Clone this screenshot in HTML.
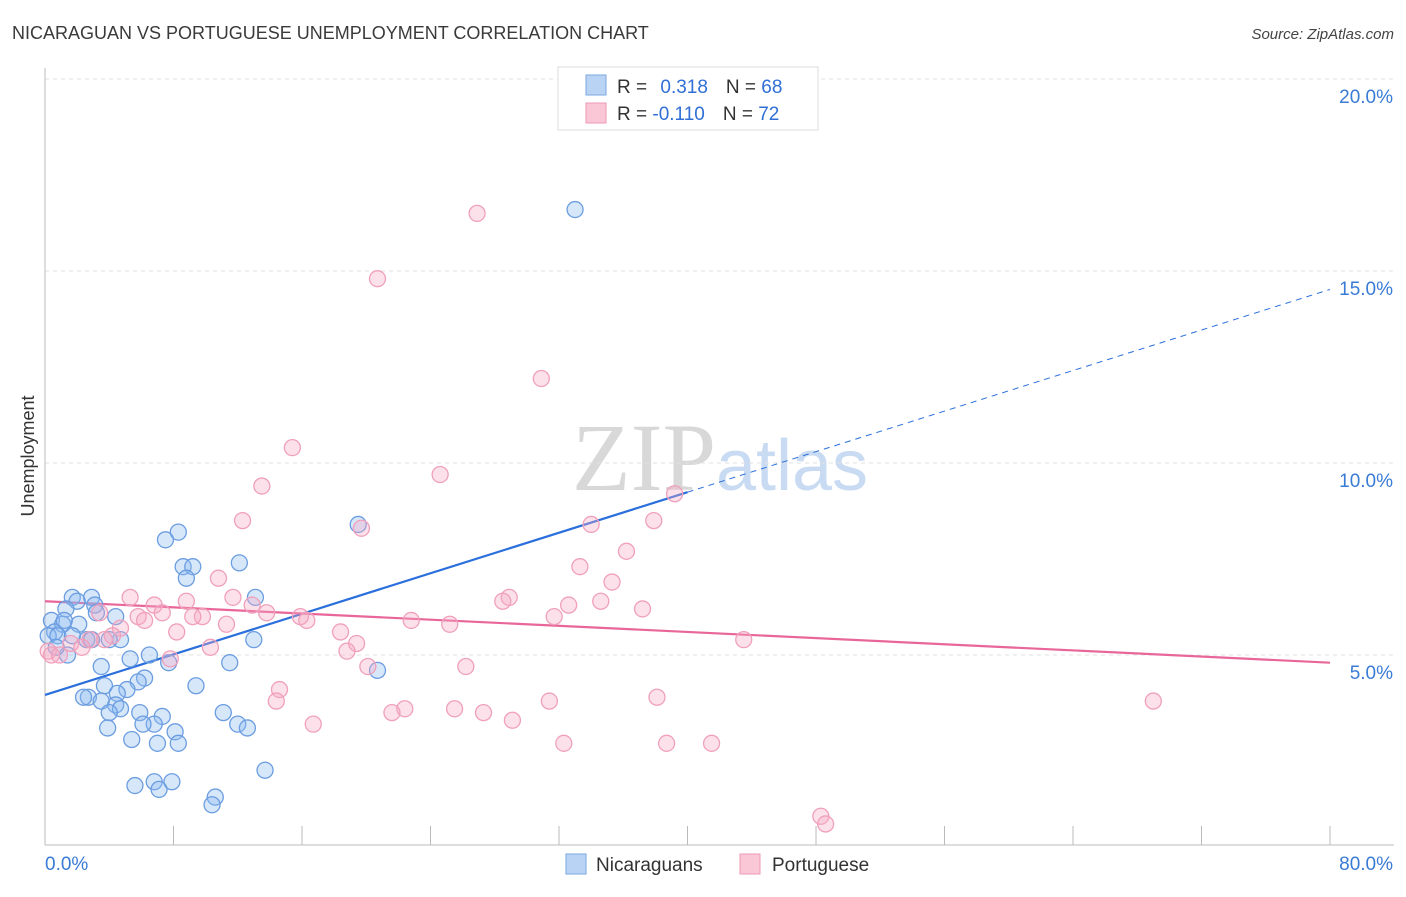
<!DOCTYPE html>
<html><head><meta charset="utf-8"><style>
body{margin:0;background:#fff;font-family:"Liberation Sans",sans-serif;}
svg text{font-family:"Liberation Sans",sans-serif;}
</style></head><body>
<svg id="chart" width="1406" height="892" xmlns="http://www.w3.org/2000/svg">
<text x="12" y="39" font-size="18" fill="#3a3a3a">NICARAGUAN VS PORTUGUESE UNEMPLOYMENT CORRELATION CHART</text>
<text x="1394" y="39" font-size="15" fill="#444" font-style="italic" text-anchor="end">Source: ZipAtlas.com</text>
<text x="720" y="490" font-size="96" text-anchor="middle"><tspan fill="#d8d8d8" font-family="Liberation Serif">ZIP</tspan><tspan fill="#c9dbf2" font-size="72">atlas</tspan></text>
<g id="grid"></g>
<g id="axes"></g>
<text transform="translate(34,456) rotate(-90)" font-size="18" fill="#333" text-anchor="middle">Unemployment</text>
<g id="lines"></g>
<g id="points"></g>
<g>
<rect x="558" y="67" width="260" height="63" fill="#fff" stroke="#ddd"/>
<rect x="586" y="75" width="20" height="20" fill="#b9d3f5" stroke="#7aa7e0"/>
<text x="617" y="93" font-size="19" fill="#333">R = <tspan fill="#2f6fd6" dx="8">0.318</tspan><tspan dx="18" fill="#333">N = </tspan><tspan fill="#2f6fd6">68</tspan></text>
<rect x="586" y="103" width="20" height="20" fill="#f9c7d6" stroke="#ee9ab5"/>
<text x="617" y="120" font-size="19" fill="#333">R = <tspan fill="#2f6fd6">-0.110</tspan><tspan dx="18" fill="#333">N = </tspan><tspan fill="#2f6fd6">72</tspan></text>
</g>
<g>
<rect x="566" y="854" width="20" height="20" fill="#b9d3f5" stroke="#7aa7e0"/>
<text x="596" y="871" font-size="19" fill="#333">Nicaraguans</text>
<rect x="740" y="854" width="20" height="20" fill="#f9c7d6" stroke="#ee9ab5"/>
<text x="772" y="871" font-size="19" fill="#333">Portuguese</text>
</g>
</svg>
<script>
const yTicks=[5,10,15,20];
const yTickLabels=["5.0%","10.0%","15.0%","20.0%"];
const xTicks=[0,8,16,24,32,40,48,56,64,72,80];
const blueX=[33.0,19.5,8.3,7.5,12.1,8.6,9.2,8.8,13.1,1.7,2.9,2.0,1.3,3.1,3.2,4.4,0.4,1.1,2.1,0.6,0.2,0.8,2.6,2.9,4.7,13.0,4.0,5.3,6.5,3.5,7.7,11.5,20.7,6.2,5.8,3.7,9.4,5.1,4.5,2.7,2.4,3.5,4.4,4.7,4.0,5.9,11.1,7.3,6.8,3.9,6.1,12.0,12.6,8.1,5.4,7.0,8.3,13.7,5.6,6.8,7.1,7.9,10.6,10.4,1.4,0.7,1.7,1.2];
const blueY=[16.6,8.4,8.2,8.0,7.4,7.3,7.3,7.0,6.5,6.5,6.5,6.4,6.2,6.3,6.1,6.0,5.9,5.8,5.8,5.6,5.5,5.5,5.4,5.4,5.4,5.4,5.4,4.9,5.0,4.7,4.8,4.8,4.6,4.4,4.3,4.2,4.2,4.1,4.0,3.9,3.9,3.8,3.7,3.6,3.5,3.5,3.5,3.4,3.2,3.1,3.2,3.2,3.1,3.0,2.8,2.7,2.7,2.0,1.6,1.7,1.5,1.7,1.3,1.1,5.0,5.2,5.5,5.9];
const pinkX=[26.9,20.7,30.9,15.4,24.6,13.5,39.2,12.3,19.7,37.9,34.0,36.2,33.3,10.8,35.3,5.3,8.8,11.7,28.9,28.5,32.6,34.6,37.2,6.8,7.3,12.9,13.8,15.9,9.8,9.2,5.8,6.2,16.3,11.3,22.8,25.2,18.4,31.7,4.7,4.2,3.7,2.8,1.6,2.3,8.2,19.4,18.8,10.3,7.8,0.2,0.4,20.1,26.2,43.5,14.6,14.4,38.1,31.4,22.4,21.6,25.5,27.3,29.1,16.7,32.3,38.7,41.5,69.0,48.3,48.6,0.9,3.4];
const pinkY=[16.5,14.8,12.2,10.4,9.7,9.4,9.2,8.5,8.3,8.5,8.4,7.7,7.3,7.0,6.9,6.5,6.4,6.5,6.5,6.4,6.3,6.4,6.2,6.3,6.1,6.3,6.1,6.0,6.0,6.0,6.0,5.9,5.9,5.8,5.9,5.8,5.6,6.0,5.7,5.5,5.4,5.4,5.3,5.2,5.6,5.3,5.1,5.2,4.9,5.1,5.0,4.7,4.7,5.4,4.1,3.8,3.9,3.8,3.6,3.5,3.6,3.5,3.3,3.2,2.7,2.7,2.7,3.8,0.8,0.6,5.0,6.1];
const blueFit=[3.96,9.24];   // y at x=0 and x=40
const blueFitEnd=40;
const pinkFit=[6.4,4.8];     // y at x=0 and x=80
const NS="http://www.w3.org/2000/svg";
const X=v=>45+v*(1285/80);
const Y=v=>847-v*38.4;
function mk(tag,attrs,parent){const e=document.createElementNS(NS,tag);for(const k in attrs)e.setAttribute(k,attrs[k]);document.getElementById(parent).appendChild(e);return e;}
yTicks.forEach((t,i)=>{
 const g=mk('line',{x1:45,x2:1394,y1:Y(t),y2:Y(t),stroke:'#e2e2e2','stroke-dasharray':'4,4'},'grid');
 
 
 const tx=mk('text',{x:1393,y:Y(t)+24,'font-size':19,fill:'#3a7bd5','text-anchor':'end'},'axes');
 tx.textContent=yTickLabels[i];
 
 
});
const ax=mk('line',{x1:45,x2:1394,y1:845,y2:845,stroke:'#bbb'},'axes');


const ay=mk('line',{x1:45,x2:45,y1:68,y2:845,stroke:'#bbb'},'axes');


xTicks.forEach(t=>{
 const l=mk('line',{x1:X(t),x2:X(t),y1:826,y2:845,stroke:'#bbb'},'axes');
 
 
});
const xl0=mk('text',{x:45,y:870,'font-size':19,fill:'#3a7bd5'},'axes');xl0.textContent='0.0%';


const xl1=mk('text',{x:1393,y:870,'font-size':19,fill:'#3a7bd5','text-anchor':'end'},'axes');xl1.textContent='80.0%';


const bSlope=(blueFit[1]-blueFit[0])/blueFitEnd;
blueX.forEach((x,i)=>{
 const c=mk('circle',{cx:X(x),cy:Y(blueY[i]),r:8,fill:'rgba(140,185,240,0.35)',stroke:'#6b9de0','stroke-width':1.3},'points');
 
 
});
pinkX.forEach((x,i)=>{
 const c=mk('circle',{cx:X(x),cy:Y(pinkY[i]),r:8,fill:'rgba(245,170,195,0.35)',stroke:'#f0a0bb','stroke-width':1.3},'points');
 
 
});
const bl=mk('line',{x1:X(0),y1:Y(blueFit[0]),x2:X(blueFitEnd),y2:Y(blueFit[1]),stroke:'#2a6fdb','stroke-width':2.2},'lines');


const bd=mk('line',{x1:X(blueFitEnd),y1:Y(blueFit[1]),x2:X(80),y2:Y(blueFit[0]+bSlope*80),stroke:'#2a6fdb','stroke-width':1,'stroke-dasharray':'6,5'},'lines');


const pl=mk('line',{x1:X(0),y1:Y(pinkFit[0]),x2:X(80),y2:Y(pinkFit[1]),stroke:'#e8669a','stroke-width':2.2},'lines');


</script>
</body></html>
